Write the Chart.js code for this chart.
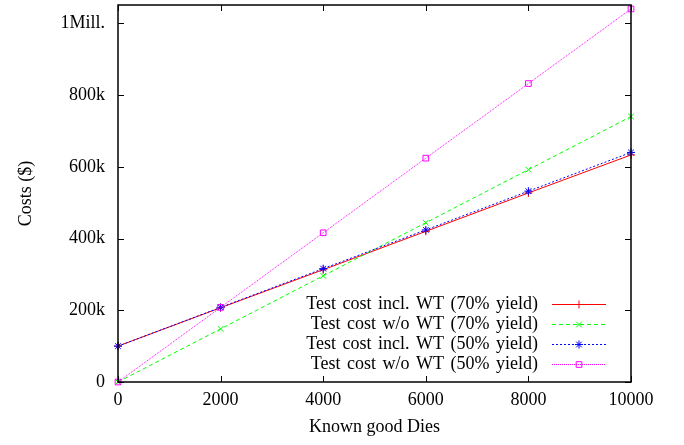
<!DOCTYPE html>
<html>
<head>
<meta charset="utf-8">
<script src="https://cdn.jsdelivr.net/npm/chart.js@4.4.1/dist/chart.umd.min.js"></script>
<style>
html,body{margin:0;padding:0;background:#fff;}
canvas{display:block;}
</style>
</head>
<body>
<canvas id="c" width="684" height="445"></canvas>
<script>
const categories = [0, 2000, 4000, 6000, 8000, 10000];
const inclWT70 = [100000, 207000, 313000, 420000, 527000, 633000];
const woWT70   = [0, 148000, 296000, 444000, 592000, 740000];
const inclWT50 = [100000, 208000, 316000, 424000, 532000, 640000];
const woWT50   = [0, 208000, 416000, 624000, 832000, 1040000];
const seriesLabels = [
  'Test cost incl. WT (70% yield)',
  'Test cost w/o WT (70% yield)',
  'Test cost incl. WT (50% yield)',
  'Test cost w/o WT (50% yield)'
];
const xTicks = [0, 2000, 4000, 6000, 8000, 10000];
const yTicks = [0, 200000, 400000, 600000, 800000, 1000000];
const yTickLabels = ['0', '200k', '400k', '600k', '800k', '1Mill.'];

const FONT = 'Liberation Serif, Times New Roman, serif';
const toPts = arr => arr.map((v, i) => ({x: categories[i], y: v}));

const datasets = [
  {label: seriesLabels[0], data: toPts(inclWT70), borderColor: '#ff0000', pointStyle: 'cross', borderDash: [], order: 4},
  {label: seriesLabels[1], data: toPts(woWT70), borderColor: '#00ff00', pointStyle: 'crossRot', borderDash: [4, 3], order: 3},
  {label: seriesLabels[2], data: toPts(inclWT50), borderColor: '#0000ff', pointStyle: 'star', borderDash: [2, 2], order: 2},
  {label: seriesLabels[3], data: toPts(woWT50), borderColor: '#ff00ff', pointStyle: 'rect', borderDash: [1, 1], order: 1}
].map(d => Object.assign(d, {
  borderWidth: 1,
  pointBorderColor: d.borderColor,
  pointBackgroundColor: 'rgba(0,0,0,0)',
  pointRadius: 4,
  pointBorderWidth: 1,
  fill: false,
  tension: 0,
  clip: false
}));

const framePlugin = {
  id: 'frame',
  afterDatasetsDraw(chart) {
    const ctx = chart.ctx;
    const a = chart.chartArea;
    const xs = chart.scales.x, ys = chart.scales.y;
    ctx.save();
    ctx.strokeStyle = '#000';
    ctx.lineWidth = 1.5;
    ctx.setLineDash([]);
    ctx.strokeRect(a.left, a.top, a.right - a.left, a.bottom - a.top);
    ctx.lineWidth = 1;
    const tl = 6;
    ctx.beginPath();
    xTicks.forEach(v => {
      const px = Math.round(xs.getPixelForValue(v)) + 0.5;
      ctx.moveTo(px, a.bottom); ctx.lineTo(px, a.bottom - tl);
      ctx.moveTo(px, a.top); ctx.lineTo(px, a.top + tl);
    });
    yTicks.forEach(v => {
      const py = Math.round(ys.getPixelForValue(v)) + 0.5;
      ctx.moveTo(a.left, py); ctx.lineTo(a.left + tl, py);
      ctx.moveTo(a.right, py); ctx.lineTo(a.right - tl, py);
    });
    ctx.stroke();

    // legend
    ctx.font = '18px ' + FONT;
    try { ctx.wordSpacing = '2px'; } catch (e) {}
    ctx.textAlign = 'right';
    ctx.textBaseline = 'middle';
    const textRight = 538, lineL = 552, lineR = 606, y0 = 304, dy = 20;
    chart.data.datasets.forEach((d, i) => {
      const y = y0 + i * dy;
      ctx.fillStyle = '#000';
      ctx.fillText(d.label, textRight, y);
      ctx.strokeStyle = d.borderColor;
      ctx.lineWidth = d.borderWidth;
      ctx.setLineDash(d.borderDash);
      ctx.beginPath();
      ctx.moveTo(lineL, y + 0.5); ctx.lineTo(lineR, y + 0.5);
      ctx.stroke();
      ctx.setLineDash([]);
      ctx.fillStyle = 'rgba(0,0,0,0)';
      ctx.strokeStyle = d.borderColor;
      Chart.helpers.drawPoint(ctx, {pointStyle: d.pointStyle, radius: d.pointRadius, borderWidth: 1, rotation: 0}, (lineL + lineR) / 2, y + 0.5);
    });
    ctx.restore();
  }
};

new Chart(document.getElementById('c'), {
  type: 'line',
  data: {datasets},
  options: {
    responsive: false,
    animation: false,
    devicePixelRatio: 1,
    layout: {padding: {left: 0, right: 53, top: 5, bottom: 0}},
    plugins: {legend: {display: false}, tooltip: {enabled: false}},
    scales: {
      x: {
        type: 'linear',
        min: 0, max: 10000,
        grid: {display: false, drawTicks: false},
        border: {display: false},
        afterBuildTicks: s => { s.ticks = xTicks.map(v => ({value: v})); },
        afterFit: s => { s.height = 63; s.paddingLeft = 0; s.paddingRight = 0; },
        ticks: {
          color: '#000', padding: 7, maxRotation: 0, autoSkip: false,
          font: {family: FONT, size: 18},
          callback: v => String(v)
        },
        title: {display: true, text: 'Known good Dies', color: '#000', font: {family: FONT, size: 18}, padding: {top: 0, bottom: 7}}
      },
      y: {
        type: 'linear',
        min: 0, max: 1051000,
        grid: {display: false, drawTicks: false},
        border: {display: false},
        afterBuildTicks: s => { s.ticks = yTicks.map(v => ({value: v})); },
        afterFit: s => { s.width = 118; s.paddingTop = 0; s.paddingBottom = 0; },
        ticks: {
          color: '#000', padding: 13, autoSkip: false,
          font: {family: FONT, size: 18},
          callback: v => { const i = yTicks.indexOf(v); return i >= 0 ? yTickLabels[i] : ''; }
        },
        title: {display: true, text: 'Costs ($)', color: '#000', font: {family: FONT, size: 18}, padding: {top: 15, bottom: 0}}
      }
    }
  },
  plugins: [framePlugin]
});
</script>
</body>
</html>
